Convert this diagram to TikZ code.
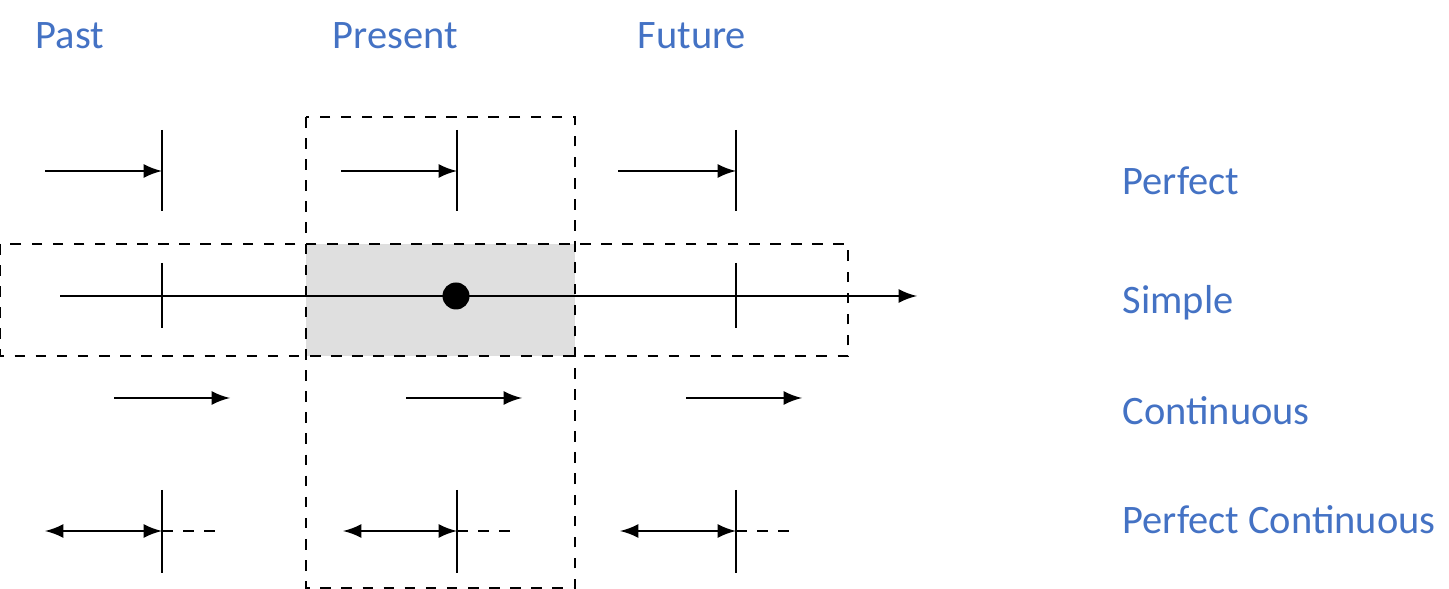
\documentclass[tikz,border=0pt]{standalone}
\usepackage{fontspec}
\setmainfont{Carlito}
\usepackage{tikz}
\definecolor{tenseblue}{RGB}{68,114,196}

\begin{document}
\begin{tikzpicture}[x=0.01cm, y=-0.01cm,
    label/.style={text=tenseblue, font=\fontsize{11.5}{13}\selectfont, anchor=west, inner sep=0pt},
    frame/.style={dashed, thin},
    timeline/.style={thick, -latex},
    tick/.style={thick}]

    \useasboundingbox (0,0) rectangle (1449,589);

    % highlighted present/simple cell
    \fill[gray!25] (306,244) rectangle (575,356);
    \draw[frame] (306,117) rectangle (575,588);
    \draw[frame] (0,244) rectangle (848,356);

    % column headings
    \node[label] (past) at (35,36) {Past};
    \node[label] (present) at (332,36) {Present};
    \node[label] (future) at (637,36) {Future};

    % row headings
    \node[label] (perfect) at (1122,181) {Perfect};
    \node[label] (simple) at (1122,303) {Simple};
    \node[label] (continuous) at (1122,411) {Continuous};
    \node[label] (perfcont) at (1122,520) {Perfect Continuous};

    % simple: time line
    \coordinate (start) at (60,296);
    \coordinate (end) at (917,296);
    \draw[timeline] (start) -- (end);
    \draw[tick] (162,263) -- (162,328);
    \draw[tick] (736,263) -- (736,328);
    \node[circle, fill=black, minimum size=0.27cm, inner sep=0pt] (now) at (456,296) {};

    % perfect
    \foreach \s/\t in {45/162, 341/457, 618/736} {
        \draw[timeline] (\s,171) -- (\t,171);
        \draw[tick] (\t,130) -- (\t,211);
    }

    % continuous
    \foreach \s in {114, 406, 686}
        \draw[timeline] (\s,398) -- (\s+116,398);

    % perfect continuous
    \foreach \s/\t in {45/162, 343/457, 620/736} {
        \draw[thick, latex-latex] (\s,531) -- (\t,531);
        \draw[thick, dashed] (\t,531) -- (\t+56,531);
        \draw[tick] (\t,490) -- (\t,573);
    }

\end{tikzpicture}
\end{document}
